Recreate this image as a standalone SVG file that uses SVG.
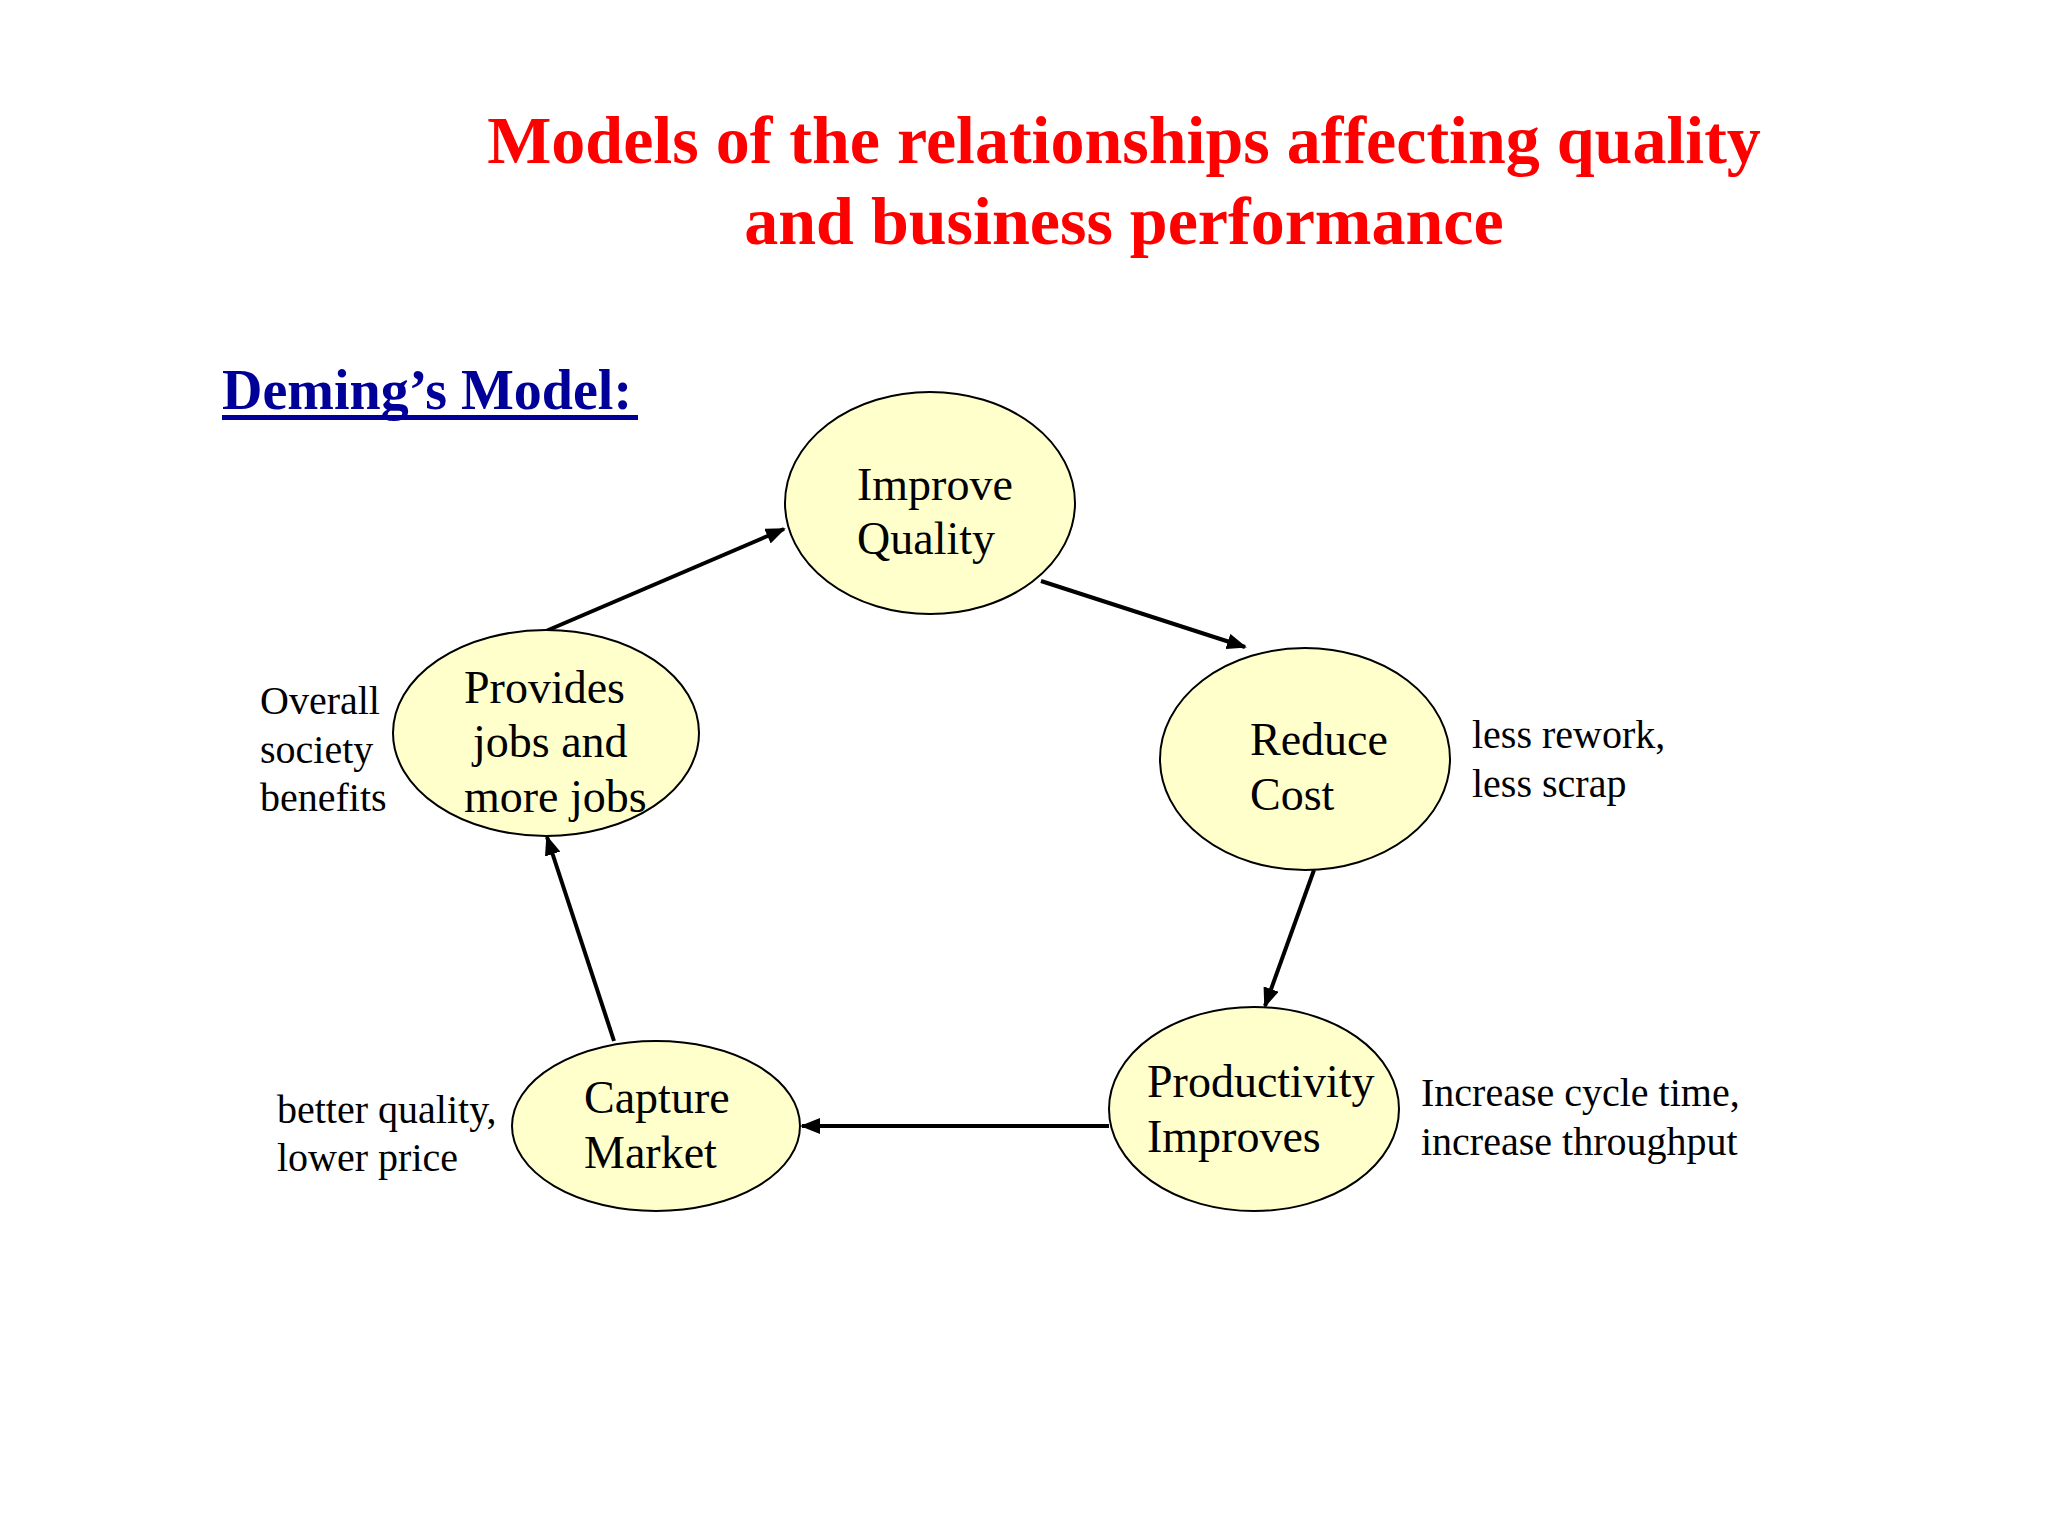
<svg xmlns="http://www.w3.org/2000/svg" width="2048" height="1536" viewBox="0 0 2048 1536">
<style>
.title{font-family:"Liberation Serif","Times New Roman",serif;font-weight:bold;font-size:68px;fill:#FF0000;text-anchor:middle}
.sub{font-family:"Liberation Serif","Times New Roman",serif;font-weight:bold;font-size:56px;fill:#000099}
.node{fill:#FFFFCC;stroke:#000;stroke-width:2}
.nt{font-family:"Liberation Serif","Times New Roman",serif;font-size:46px;fill:#000}
.side{font-family:"Liberation Serif","Times New Roman",serif;font-size:40px;fill:#000}
.conn{stroke:#000;stroke-width:4;fill:none;marker-end:url(#arrow)}
</style>
<defs>
<marker id="arrow" markerUnits="userSpaceOnUse" markerWidth="20" markerHeight="16" refX="18" refY="8" orient="auto">
<path d="M0,0 L20,8 L0,16 Z" fill="#000"/>
</marker>
</defs>
<rect width="2048" height="1536" fill="#FFFFFF"/>
<g id="title">
<text class="title" x="1124" y="163">Models of the relationships affecting quality</text>
<text class="title" x="1124" y="244">and business performance</text>
</g>
<g id="heading">
<text class="sub" x="222" y="409">Deming’s Model:</text>
<rect x="222" y="415" width="416" height="5" fill="#000099"/>
</g>
<g id="connectors">
<line class="conn" x1="546" y1="631" x2="784" y2="529"/>
<line class="conn" x1="1041" y1="581" x2="1245" y2="647"/>
<line class="conn" x1="1314" y1="870" x2="1265" y2="1006"/>
<line class="conn" x1="1109" y1="1126" x2="802" y2="1126"/>
<line class="conn" x1="614" y1="1041" x2="547" y2="837"/>
</g>
<g id="improve-quality">
<ellipse class="node" cx="930" cy="503" rx="145" ry="111"/>
<text class="nt" x="857" y="500">Improve</text>
<text class="nt" x="857" y="554">Quality</text>
</g>
<g id="reduce-cost">
<ellipse class="node" cx="1305" cy="759" rx="145" ry="111"/>
<text class="nt" x="1250" y="755">Reduce</text>
<text class="nt" x="1250" y="810">Cost</text>
</g>
<g id="productivity-improves">
<ellipse class="node" cx="1254" cy="1109" rx="145" ry="102"/>
<text class="nt" x="1147" y="1097">Productivity</text>
<text class="nt" x="1147" y="1152">Improves</text>
</g>
<g id="capture-market">
<ellipse class="node" cx="656" cy="1126" rx="144" ry="85"/>
<text class="nt" x="584" y="1113">Capture</text>
<text class="nt" x="584" y="1168">Market</text>
</g>
<g id="provides-jobs">
<ellipse class="node" cx="546" cy="733" rx="153" ry="103"/>
<text class="nt" x="464" y="703">Provides</text>
<text class="nt" x="473" y="757">jobs and</text>
<text class="nt" x="464" y="812">more jobs</text>
</g>
<g id="side-labels">
<text class="side" x="260" y="714">Overall</text>
<text class="side" x="260" y="763">society</text>
<text class="side" x="260" y="811">benefits</text>
<text class="side" x="1472" y="748">less rework,</text>
<text class="side" x="1472" y="797">less scrap</text>
<text class="side" x="277" y="1123">better quality,</text>
<text class="side" x="277" y="1171">lower price</text>
<text class="side" x="1421" y="1106">Increase cycle time,</text>
<text class="side" x="1421" y="1155">increase throughput</text>
</g>
</svg>
